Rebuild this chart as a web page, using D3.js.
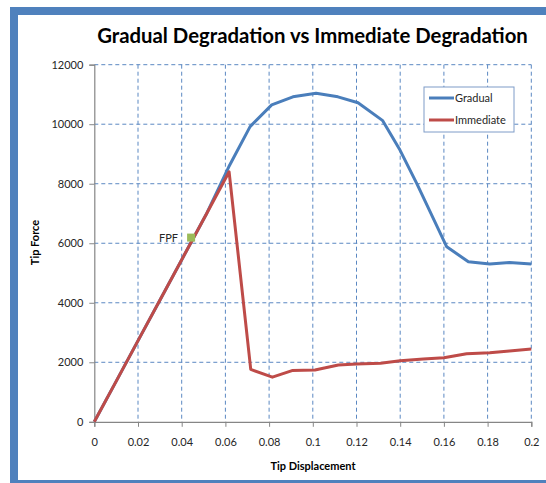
<!DOCTYPE html>
<html>
<head>
<meta charset="utf-8">
<script src="https://cdn.jsdelivr.net/npm/d3@7"></script>
<style>
body { margin:0; background:#fff; }
svg { display:block; font-family: Lato, "Open Sans", sans-serif; }
</style>
</head>
<body>
<svg></svg>
<script>
// chart values
var gradualX   = [0, 0.0103, 0.0207, 0.031, 0.0413, 0.0515, 0.0615, 0.0713, 0.0812, 0.0909, 0.1015, 0.1115, 0.1207, 0.132, 0.1399, 0.1475, 0.1613, 0.1712, 0.181, 0.190, 0.2];
var gradualY   = [0, 1400, 2820, 4220, 5620, 7010, 8560, 9920, 10650, 10920, 11040, 10920, 10720, 10120, 9130, 8020, 5880, 5380, 5300, 5350, 5300];
var immediateX = [0, 0.0103, 0.0207, 0.031, 0.0413, 0.0515, 0.0617, 0.0716, 0.0815, 0.0905, 0.101, 0.1117, 0.12, 0.131, 0.14, 0.1506, 0.16, 0.1704, 0.181, 0.19, 0.2];
var immediateY = [0, 1400, 2820, 4220, 5620, 7010, 8400, 1760, 1500, 1720, 1740, 1910, 1940, 1970, 2050, 2110, 2150, 2290, 2320, 2380, 2450];
var fpf        = [0.0443, 6190];
var xTicks     = [0, 0.02, 0.04, 0.06, 0.08, 0.1, 0.12, 0.14, 0.16, 0.18, 0.2];
var yTicks     = [0, 2000, 4000, 6000, 8000, 10000, 12000];
var seriesNames = ['Gradual', 'Immediate'];

var createChart = function(){

	var svgwidth  = 546;
	var svgheight = 483;

	var margins = {
		top:64.7,
		bottom:483-421.8,
		left:94.3,
		right:546-531.3
	};

	var width  = svgwidth - margins.left - margins.right;
	var height = svgheight - margins.top - margins.bottom;

	var blue  = '#4A7EBB';
	var red   = '#BE4B48';
	var green = '#9BBB59';
	var frame = '#4F81BD';

	var svg = d3.select('svg').attr('width',svgwidth).attr('height',svgheight);

	// outer frame bars
	svg.append('rect').attr('x',10).attr('y',7).attr('width',svgwidth-10).attr('height',8).attr('fill',frame);
	svg.append('rect').attr('x',10).attr('y',7).attr('width',8).attr('height',svgheight-7).attr('fill',frame);
	svg.append('rect').attr('x',10).attr('y',480).attr('width',svgwidth-10).attr('height',3).attr('fill',frame);

	var x = d3.scaleLinear().domain([0,0.2]).range([0,width]);
	var y = d3.scaleLinear().domain([0,12000]).range([height,0]);

	var plot = svg.append('g').classed('plot',true)
		.attr('transform','translate('+margins.left+','+margins.top+')');

	// dashed grid
	plot.selectAll('.hgrid').data(yTicks.filter(function(d){return d>0;})).enter().append('line')
		.attr('x1',0).attr('x2',width)
		.attr('y1',function(d){return y(d);}).attr('y2',function(d){return y(d);})
		.attr('stroke','#5B88C2').attr('stroke-width',1).attr('stroke-dasharray','4,3');

	plot.selectAll('.vgrid').data(xTicks.filter(function(d){return d>0;})).enter().append('line')
		.attr('y1',0).attr('y2',height)
		.attr('x1',function(d){return x(d);}).attr('x2',function(d){return x(d);})
		.attr('stroke','#5B88C2').attr('stroke-width',1).attr('stroke-dasharray','4,3');

	// axes
	var xAxis = d3.axisBottom(x).tickValues(xTicks).tickSize(5).tickPadding(11)
		.tickFormat(function(d){ return d3.format('~g')(d); });
	var yAxis = d3.axisLeft(y).tickValues(yTicks).tickSize(5).tickPadding(6)
		.tickFormat(d3.format('d'));

	var gx = plot.append('g').attr('transform','translate(0,'+height+')').call(xAxis);
	var gy = plot.append('g').call(yAxis);

	[gx,gy].forEach(function(g){
		g.select('.domain').attr('stroke','#868686').attr('stroke-width',1.2);
		g.selectAll('.tick line').attr('stroke','#868686');
		g.selectAll('.tick text').attr('fill','#262626').style('font-size','11px').style('font-family','Lato, sans-serif');
	});

	// series
	var line = d3.line().x(function(d){return x(d[0]);}).y(function(d){return y(d[1]);});

	var gradual   = gradualX.map(function(d,i){ return [d, gradualY[i]]; });
	var immediate = immediateX.map(function(d,i){ return [d, immediateY[i]]; });

	plot.append('path').datum(gradual).attr('d',line)
		.attr('fill','none').attr('stroke',blue).attr('stroke-width',3).attr('stroke-linejoin','round');
	plot.append('path').datum(immediate).attr('d',line)
		.attr('fill','none').attr('stroke',red).attr('stroke-width',3).attr('stroke-linejoin','round');

	// FPF marker
	plot.append('rect')
		.attr('x',x(fpf[0])-4).attr('y',y(fpf[1])-4)
		.attr('width',8).attr('height',8).attr('fill',green);
	plot.append('text')
		.attr('x',x(fpf[0])-13).attr('y',y(fpf[1])+4)
		.attr('text-anchor','end').style('font-size','11px').attr('fill','#262626')
		.text('FPF');

	// legend
	var legend = svg.append('g').attr('transform','translate(424,87)');
	legend.append('rect').attr('x',0).attr('y',0).attr('width',90).attr('height',45)
		.attr('fill','#fff').attr('stroke','#7E9CC8').attr('stroke-width',1);
	legend.selectAll('.legline').data(seriesNames).enter().append('line')
		.attr('x1',5).attr('x2',30)
		.attr('y1',function(d,i){return 11+i*22;}).attr('y2',function(d,i){return 11+i*22;})
		.attr('stroke',function(d,i){return i==0 ? blue : red;}).attr('stroke-width',3);
	legend.selectAll('.legtext').data(seriesNames).enter().append('text')
		.attr('x',31).attr('y',function(d,i){return 15+i*22;})
		.style('font-size','11px').attr('fill','#262626')
		.text(function(d){return d;});

	// titles
	var title = svg.append('text')
		.attr('x',312.5).attr('y',43)
		.attr('text-anchor','middle')
		.style('font-weight','bold').style('font-size','20px').attr('fill','#000')
		.text('Gradual Degradation vs Immediate Degradation');
	var tw = title.node().getComputedTextLength();
	title.style('font-size',(20*431/tw)+'px');

	svg.append('text')
		.attr('x',313).attr('y',470)
		.attr('text-anchor','middle')
		.style('font-weight','bold').style('font-size','11px').attr('fill','#000')
		.text('Tip Displacement');

	svg.append('text')
		.attr('transform','translate(39,242.5) rotate(-90)')
		.attr('text-anchor','middle')
		.style('font-weight','bold').style('font-size','11px').attr('fill','#000')
		.text('Tip Force');
}

createChart();
</script>
</body>
</html>
